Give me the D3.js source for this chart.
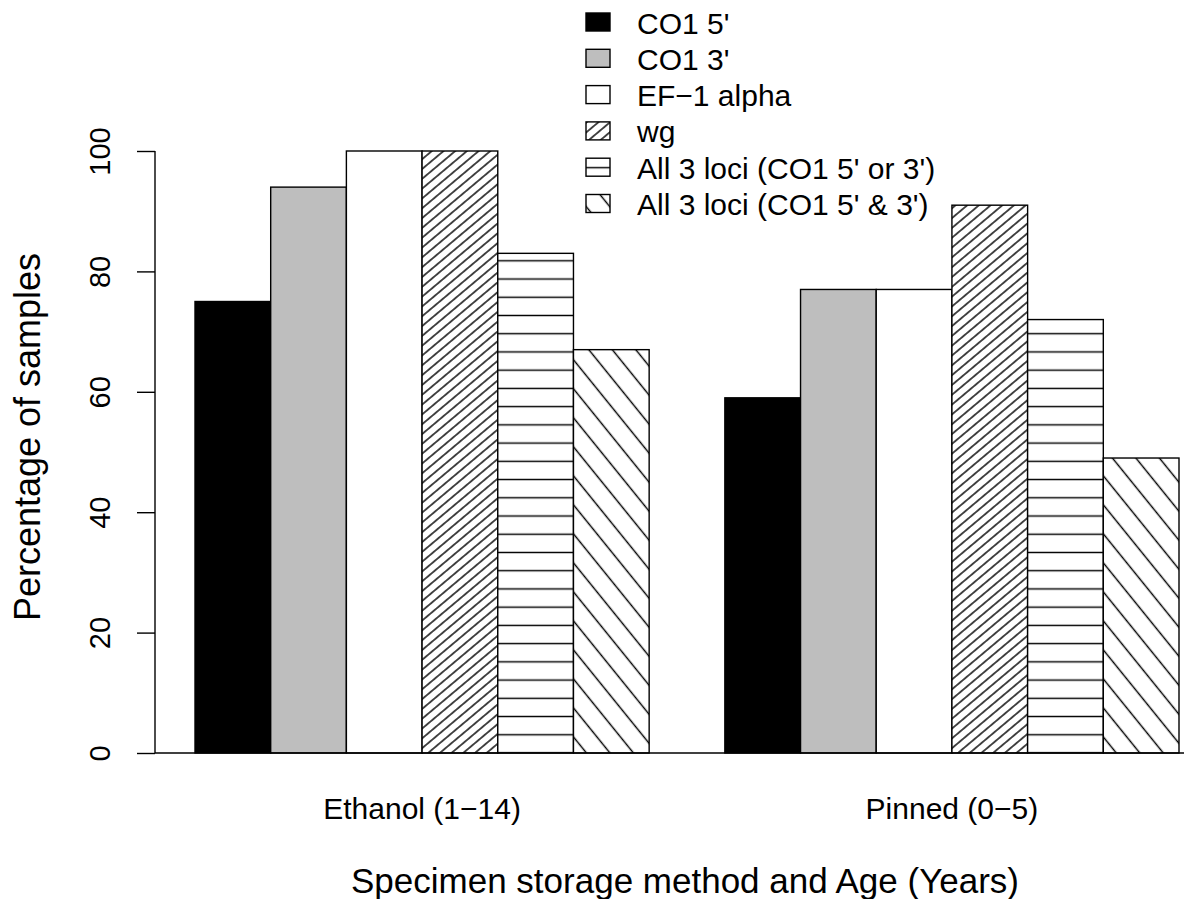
<!DOCTYPE html>
<html>
<head>
<meta charset="utf-8">
<script src="https://cdn.jsdelivr.net/npm/d3@7"></script>
<style>
  html, body { margin: 0; padding: 0; background: #fff; }
  svg { display: block; }
  text { font-family: "Liberation Sans", Arial, Helvetica, sans-serif; fill: #000; }
</style>
</head>
<body>
<svg id="chart" width="1184" height="899"></svg>
<script>
// ---- data ----
const groups = ["Ethanol (1\u221214)", "Pinned (0\u22125)"];
const series = ["CO1 5'", "CO1 3'", "EF\u22121 alpha", "wg", "All 3 loci (CO1 5' or 3')", "All 3 loci (CO1 5' & 3')"];
const ethanolValues = [75, 94, 100, 100, 83, 67];
const pinnedValues = [59, 77, 77, 91, 72, 49];
const yTicks = [0, 20, 40, 60, 80, 100];
const yLabel = "Percentage of samples";
const xLabel = "Specimen storage method and Age (Years)";

const groupValues = [ethanolValues, pinnedValues];

// ---- styles ----
const fills = ["solid-black", "solid-gray", "solid-white", "hatch-up", "hatch-h", "hatch-down"];
const hatch = {
  "hatch-up":   { angle: -40, d: 7.52, dx: 6 },
  "hatch-h":    { angle: 0,   d: 18.23, dx: 0 },
  "hatch-down": { angle: 51,  d: 18.26, dx: 13 }
};

const svg = d3.select("#chart");
const defs = svg.append("defs");

// ---- scales ----
const y = d3.scaleLinear().domain([0, 100]).range([753, 151]);
const nPer = series.length;
// bar units: group g, bar i starts at g*(nPer+1) + 1 + i
const x = d3.scaleLinear().domain([1, 2 * (nPer + 1)]).range([195, 1179]);
const bw = x(2) - x(1);

let pid = 0;
function makePattern(kind, ax, ay, dxOverride) {
  const h = hatch[kind];
  const id = "pat" + (pid++);
  const p = defs.append("pattern")
    .attr("id", id)
    .attr("patternUnits", "userSpaceOnUse")
    .attr("width", 40)
    .attr("height", h.d)
    .attr("patternTransform",
      `translate(${ax + (dxOverride !== undefined ? dxOverride : h.dx)},${ay}) rotate(${h.angle}) translate(0,${-h.d / 2})`);
  p.append("rect").attr("width", 40).attr("height", h.d).attr("fill", "#fff");
  p.append("line")
    .attr("x1", -1).attr("x2", 41)
    .attr("y1", h.d / 2).attr("y2", h.d / 2)
    .attr("stroke", "#000").attr("stroke-width", 1.4);
  return "url(#" + id + ")";
}

function fillFor(kind, ax, ay, dxo) {
  if (kind === "solid-black") return "#000";
  if (kind === "solid-gray") return "#bebebe";
  if (kind === "solid-white") return "#fff";
  return makePattern(kind, ax, ay, dxo);
}

// ---- bars ----
const barData = [];
groupValues.forEach((vals, g) => {
  vals.forEach((v, i) => barData.push({ g, i, v, u: g * (nPer + 1) + 1 + i }));
});

svg.append("g").selectAll("rect")
  .data(barData)
  .join("rect")
  .attr("x", d => x(d.u))
  .attr("y", d => y(d.v))
  .attr("width", bw)
  .attr("height", d => y(0) - y(d.v))
  .attr("fill", d => fillFor(fills[d.i], x(d.u), y(0)))
  .attr("stroke", "#000")
  .attr("stroke-width", 1.4);

// baseline
svg.append("line")
  .attr("x1", 155).attr("x2", 1184)
  .attr("y1", y(0)).attr("y2", y(0))
  .attr("stroke", "#000").attr("stroke-width", 1.4);

// ---- y axis ----
const yAxis = d3.axisLeft(y).tickValues(yTicks).tickSize(18).tickPadding(0).tickFormat(d3.format("d"));
const ga = svg.append("g").attr("transform", "translate(155,0)").call(yAxis);
ga.select(".domain").attr("stroke", "#000").attr("stroke-width", 1.4).attr("d", `M0,${y(0)}V${y(100)}`);
ga.selectAll(".tick line").attr("stroke", "#000").attr("stroke-width", 1.4);
ga.selectAll(".tick text").remove();
ga.selectAll(".tick").append("text")
  .attr("transform", `translate(-45,0) rotate(-90)`)
  .attr("text-anchor", "middle")
  .attr("font-size", 29)
  .text(d => d3.format("d")(d));

// y title
svg.append("text")
  .attr("transform", `translate(40,437) rotate(-90)`)
  .attr("text-anchor", "middle")
  .attr("font-size", 36)
  .text(yLabel);

// ---- group labels ----
svg.append("g").selectAll("text")
  .data(groups)
  .join("text")
  .attr("transform", (d, g) => `translate(${(x(g * (nPer + 1) + 1) + x(g * (nPer + 1) + 1 + nPer)) / 2},819)`)
  .attr("text-anchor", "middle")
  .attr("font-size", 30)
  .text(d => d);

// x title
svg.append("text")
  .attr("transform", `translate(685,893)`)
  .attr("text-anchor", "middle")
  .attr("font-size", 35)
  .text(xLabel);

// ---- legend ----
const lg = svg.append("g");
const lx = 586, lw = 24, lh = 18, ly0 = 13, lstep = 36.3;
series.forEach((s, i) => {
  const top = ly0 + i * lstep;
  const kind = fills[i];
  let f;
  if (kind === "hatch-h") f = makePattern(kind, lx, top + lh / 2 + 0.5, 0);
  else if (kind === "hatch-down") f = makePattern(kind, lx, top + lh, 5);
  else if (kind === "hatch-up") f = makePattern(kind, lx, top + lh, 3);
  else f = fillFor(kind, lx, top + lh);
  lg.append("rect")
    .attr("x", lx).attr("y", top).attr("width", lw).attr("height", lh)
    .attr("fill", f).attr("stroke", "#000").attr("stroke-width", 1.4);
  lg.append("text")
    .attr("transform", `translate(637,${top + lh + 2.5})`)
    .attr("font-size", 30)
    .text(s);
});
</script>
</body>
</html>
